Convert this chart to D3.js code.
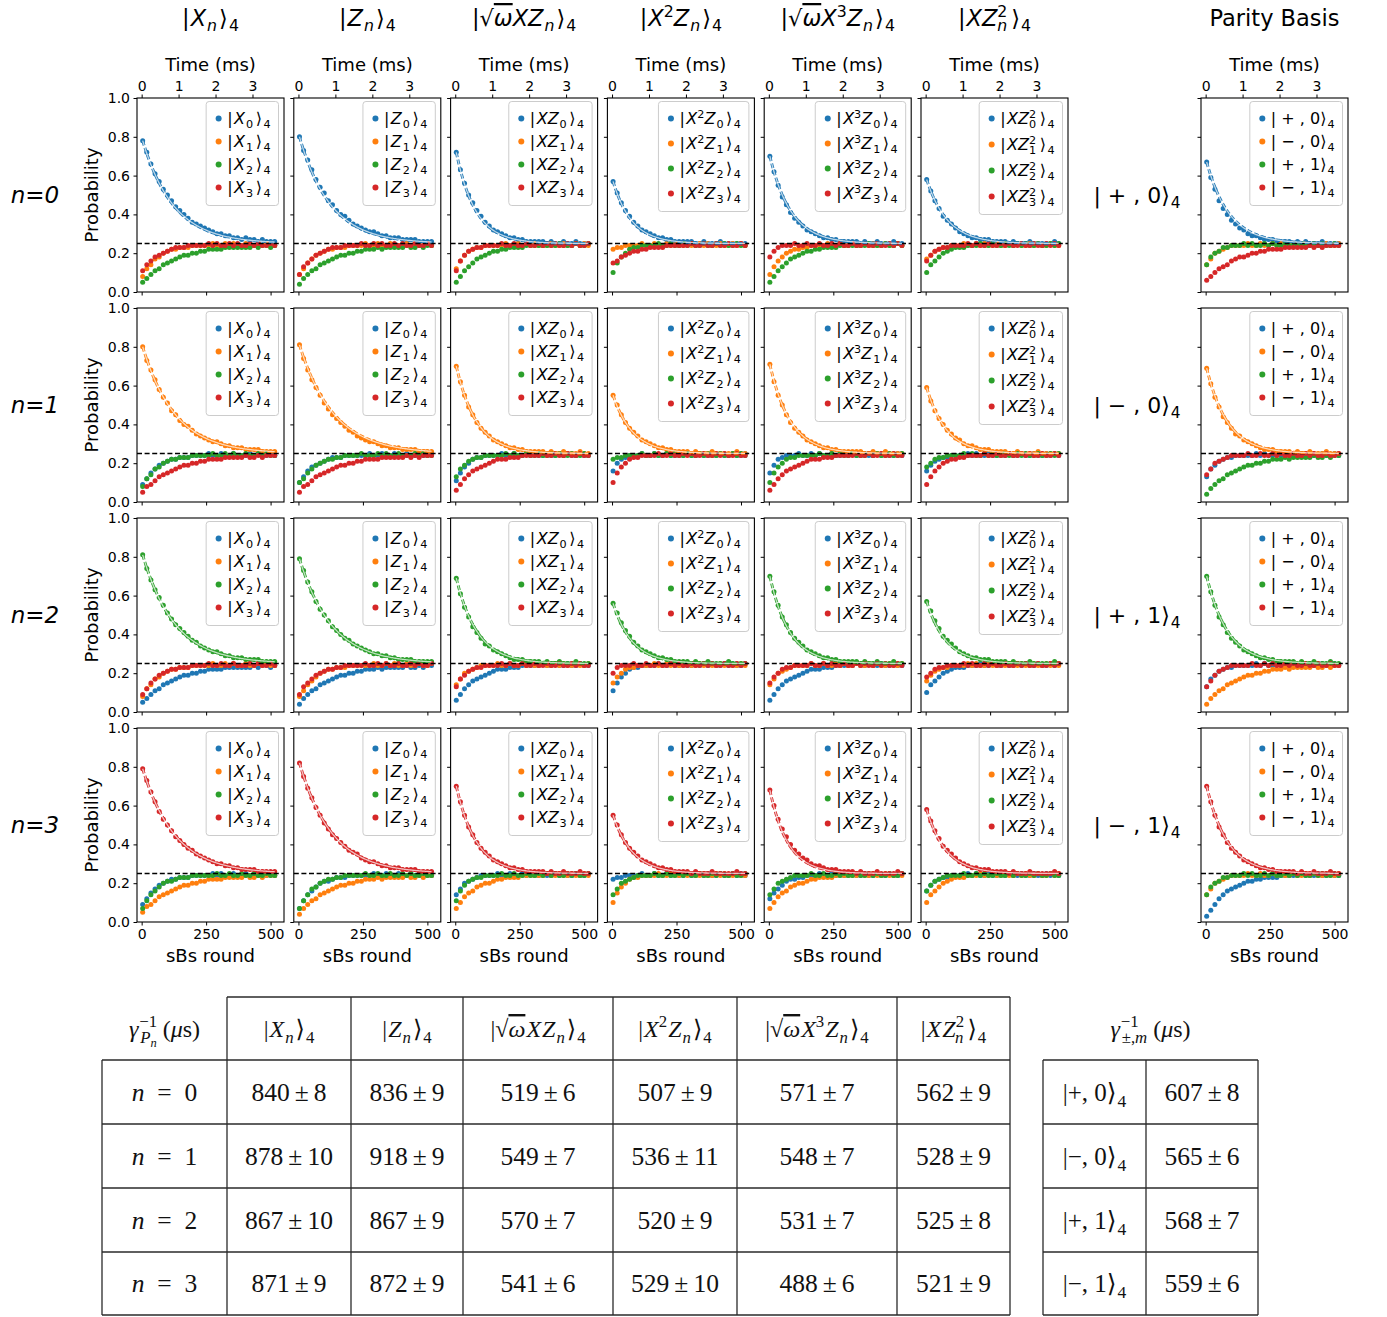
<!DOCTYPE html>
<html><head><meta charset="utf-8">
<script src="https://cdn.jsdelivr.net/npm/d3@7"></script>
<style>body{margin:0;background:#fff}svg{font-family:"DejaVu Sans",sans-serif}</style>
</head><body>
<svg id="chart" width="1387" height="1317"></svg>
<script>
// ---------------- data ----------------
const ROUNDS = [4,20,36,52,68,84,100,116,132,148,164,180,196,212,228,244,260,276,292,308,324,340,356,372,388,404,420,436,452,468,484,500,516];
const US_PER_ROUND = 6.98;
const COLORS = ["#1f77b4","#ff7f0e","#2ca02c","#d62728"];
const Y_TICKS = [0,20,40,60,80,100];
const X_TICKS = [0,250,500];
const T_TICKS = [0,1,2,3];
const ROW_LABELS = ["n=0","n=1","n=2","n=3"];
const PARITY_STATES = ["+ , 0","\u2212 , 0","+ , 1","\u2212 , 1"];
const PARITY_STATES_T = ["+, 0","\u2212, 0","+, 1","\u2212, 1"];

// probability values in percent, series order: [k=0 blue, k=1 orange, k=2 green, k=3 red]
const Xn_0 = [
[78,72,66,61,57,53,50,47,44,42,40,38,36,35,34,33,32,31,30,30,29,29,28,28,27,28,27,27,26,27,26,26,26],
[8,12,14,17,18,20,21,22,22,23,23,23,24,24,24,24,24,25,24,24,25,24,25,24,24,25,24,24,25,24,25,24,24],
[5,7,9,11,12,14,15,16,17,18,19,19,20,20,21,21,22,22,22,22,23,23,23,23,23,23,23,24,23,24,24,23,24],
[11,14,16,18,19,20,21,22,23,23,23,24,24,24,24,24,25,24,25,24,24,25,24,25,24,24,25,24,25,24,24,25,24]];
const Zn_0 = [
[80,73,68,63,58,54,51,47,45,42,40,39,37,35,34,33,32,31,31,30,29,29,28,28,28,27,27,27,27,26,26,26,26],
[9,12,15,17,19,20,21,22,22,23,23,23,24,24,24,24,25,24,24,25,24,24,25,24,24,24,25,24,25,24,24,25,24],
[4,7,9,11,12,14,15,16,17,18,19,19,20,20,21,21,22,22,22,23,22,23,23,23,23,23,24,23,23,24,23,24,24],
[9,13,15,17,19,20,21,22,23,23,23,24,24,24,24,25,24,24,25,24,25,24,24,25,24,25,24,24,25,24,24,25,24]];
const XZn_0 = [
[72,63,56,50,46,42,39,36,34,32,31,30,29,28,28,27,27,26,26,26,26,26,25,26,25,25,26,25,25,26,25,25,25],
[12,16,19,21,22,23,23,24,24,24,24,24,25,24,24,25,24,25,24,25,24,24,24,25,24,24,25,24,24,25,24,25,24],
[5,8,11,13,15,17,18,19,20,21,21,22,22,23,23,23,23,24,24,24,24,24,24,24,24,25,24,24,24,25,24,24,25],
[11,16,19,21,22,23,23,24,24,24,24,25,24,24,25,24,24,25,24,24,25,24,25,24,25,24,24,25,24,25,24,24,25]];
const X2Zn_0 = [
[57,51,46,42,39,36,34,32,31,30,29,28,28,27,27,26,26,26,26,26,25,25,26,25,25,25,26,25,25,25,25,25,25],
[22,23,23,24,24,24,24,25,24,24,25,24,24,25,24,25,24,24,25,24,24,25,24,25,24,24,25,24,24,25,24,25,24],
[10,15,18,20,22,23,23,24,24,24,24,25,24,24,25,24,24,25,24,25,24,24,25,24,24,25,24,25,24,24,25,24,24],
[15,16,18,19,20,21,21,22,22,23,23,23,23,24,24,24,24,24,24,25,24,24,25,24,24,25,24,24,25,24,24,25,24]];
const X3Zn_0 = [
[70,62,55,49,45,41,38,36,34,32,31,30,29,28,28,27,27,26,26,26,26,26,25,26,25,25,26,25,25,25,26,25,25],
[9,13,16,18,20,21,22,22,23,23,24,24,24,24,25,24,24,25,24,24,25,24,24,25,24,25,24,24,25,24,24,25,24],
[5,8,11,13,15,17,18,19,20,21,21,22,22,23,23,23,23,24,24,24,24,24,24,24,25,24,24,24,25,24,24,25,24],
[18,21,23,24,24,24,25,24,24,25,24,24,25,24,24,25,24,25,24,24,25,24,24,25,24,24,25,24,24,25,24,25,24]];
const XZ2n_0 = [
[58,52,47,43,39,37,35,33,31,30,29,28,28,27,27,27,26,26,26,26,25,26,25,25,25,26,25,25,25,25,25,26,25],
[17,19,21,22,23,23,24,24,24,25,24,24,25,24,25,24,24,25,24,24,25,24,25,24,24,25,24,25,24,24,25,24,24],
[10,14,16,18,20,21,22,23,23,23,24,24,24,25,24,24,25,24,24,25,24,24,25,24,25,24,24,25,24,24,25,24,25],
[16,19,21,22,23,23,24,24,24,24,25,24,25,24,24,25,24,24,25,24,25,24,24,25,24,24,25,24,24,25,24,25,24]];
const PAR_0 = [
[67,59,53,47,43,40,37,35,33,32,30,29,29,28,27,27,27,26,26,26,26,25,26,25,26,25,25,25,26,25,25,25,25],
[14,17,20,21,22,23,24,24,24,24,25,24,24,25,24,24,25,24,25,24,24,25,24,24,25,24,25,24,24,25,24,24,25],
[14,18,20,21,23,23,24,24,24,25,24,25,24,24,25,24,25,24,24,25,24,25,24,25,24,24,25,24,25,24,24,25,24],
[6,8,10,12,13,14,16,17,18,18,19,20,20,21,21,22,22,22,22,23,23,23,23,23,23,24,23,24,23,24,24,24,24]];

const Xn_1 = [
[9,12,15,17,19,20,21,22,22,23,23,23,24,24,24,24,25,24,24,25,24,24,25,24,24,24,25,24,25,24,24,25,24],
[80,73,68,63,58,54,51,47,45,42,40,39,37,35,34,33,32,31,31,30,29,29,28,28,28,27,27,27,27,26,26,26,26],
[8,12,14,17,18,20,21,22,22,23,23,23,24,24,24,24,24,25,24,24,25,24,25,24,24,25,24,24,25,24,25,24,24],
[5,8,9,11,13,14,15,16,17,18,19,19,20,20,21,21,22,22,22,22,23,23,23,23,23,24,23,23,24,23,24,24,24]];
const Zn_1 = [
[10,13,16,18,19,20,21,22,23,23,23,24,24,24,24,24,24,25,24,24,25,24,24,25,24,24,25,24,24,25,24,24,25],
[81,74,68,63,59,55,51,48,45,43,41,39,37,36,34,33,32,31,31,30,29,29,28,28,28,27,27,27,27,26,26,26,26],
[10,12,15,17,19,20,21,22,22,23,23,24,24,24,24,25,24,24,24,25,24,25,24,24,25,24,24,24,25,24,25,24,24],
[5,8,9,11,13,14,15,16,17,18,19,19,20,20,21,21,22,22,22,22,23,23,23,23,23,23,24,23,24,23,24,24,24]];
const XZn_1 = [
[11,15,18,20,22,23,23,24,24,24,24,25,24,24,25,24,24,25,24,25,24,24,25,24,24,25,24,25,24,24,25,24,24],
[70,62,55,49,45,41,38,36,34,32,31,30,29,28,28,27,27,26,26,26,26,26,25,26,25,25,26,25,25,25,26,25,25],
[13,17,19,21,22,23,23,24,24,24,24,24,25,24,25,24,24,25,24,24,25,24,24,25,24,25,24,24,25,24,24,25,24],
[6,9,12,14,16,17,18,19,20,21,22,22,22,23,23,23,24,24,24,24,24,25,24,24,25,24,24,25,24,24,25,24,24]];
const X2Zn_1 = [
[16,20,22,23,24,24,24,25,24,24,25,24,24,25,24,24,25,24,25,24,24,25,24,24,25,24,25,24,24,25,24,24,25],
[55,50,45,41,38,36,34,32,31,30,29,28,28,27,27,26,26,26,26,25,26,25,25,25,26,25,25,25,25,25,26,25,25],
[22,23,23,24,24,24,24,25,24,24,25,24,24,25,24,25,24,24,25,24,24,25,24,25,24,24,25,24,24,25,24,25,24],
[10,15,18,20,22,23,23,24,24,24,24,25,24,24,25,24,24,25,24,25,24,24,25,24,24,25,24,25,24,24,25,24,24]];
const X3Zn_1 = [
[15,19,22,23,24,24,24,25,24,24,25,24,25,24,24,25,24,24,25,24,25,24,24,25,24,24,25,24,25,24,24,25,24],
[71,62,55,50,45,41,38,36,34,32,31,30,29,28,28,27,27,26,26,26,26,26,26,25,25,26,25,25,26,25,25,25,25],
[10,15,18,20,22,23,23,24,24,24,24,24,25,24,24,25,24,25,24,24,25,24,24,24,25,24,25,24,24,25,24,24,25],
[6,9,12,14,16,17,18,19,20,21,22,22,22,23,23,23,24,24,24,24,24,25,24,24,25,24,24,25,24,24,25,24,24]];
const XZ2n_1 = [
[16,19,21,22,23,23,24,24,24,24,25,24,25,24,24,25,24,24,25,24,25,24,24,25,24,24,25,24,24,25,24,25,24],
[59,52,47,43,40,37,35,33,32,30,29,29,28,27,27,27,26,26,26,26,25,25,26,25,25,25,25,26,25,25,25,25,25],
[18,20,22,23,23,24,24,24,24,25,24,25,24,24,25,24,25,24,24,25,24,24,25,24,25,24,24,25,24,24,25,24,25],
[9,13,16,18,20,21,22,22,23,23,24,24,24,24,25,24,24,25,24,24,25,24,24,25,24,25,24,24,25,24,24,25,24]];
const PAR_1 = [
[13,17,19,21,22,23,23,24,24,24,24,24,25,24,25,24,24,25,24,24,25,24,24,25,24,25,24,24,25,24,24,25,24],
[69,61,54,49,44,41,38,35,34,32,31,30,29,28,27,27,27,26,26,26,26,25,26,25,25,26,25,25,25,26,25,25,25],
[4,7,9,11,12,14,15,16,17,18,19,19,20,20,21,21,22,22,22,23,22,23,23,23,23,23,24,23,23,24,23,24,24],
[14,17,20,21,22,23,24,24,24,24,25,24,24,25,24,24,25,24,25,24,24,25,24,24,25,24,25,24,24,25,24,24,25]];

const Xn_2 = [
[5,7,9,11,12,14,15,16,17,18,19,19,20,20,21,21,22,22,22,22,23,23,23,23,23,23,23,24,23,24,24,23,24],
[8,12,14,17,18,20,21,22,22,23,23,23,24,24,24,24,24,25,24,24,25,24,25,24,24,25,24,24,25,24,25,24,24],
[81,74,68,63,59,55,51,48,45,43,41,39,37,36,34,33,32,31,31,30,29,29,28,28,28,27,27,27,27,26,26,26,26],
[9,12,15,17,19,20,21,22,22,23,23,23,24,24,24,24,25,24,24,25,24,24,25,24,24,24,25,24,25,24,24,25,24]];
const Zn_2 = [
[4,7,9,11,12,14,15,16,17,18,19,19,20,20,21,21,22,22,22,23,22,23,23,23,23,23,24,23,23,24,23,24,24],
[8,11,14,16,18,20,21,22,22,23,23,23,24,24,24,24,24,24,25,24,24,25,24,25,24,24,25,24,24,25,24,24,25],
[79,73,67,62,57,53,50,47,44,42,40,38,37,35,34,33,32,31,30,30,29,29,28,28,27,27,27,27,26,26,26,26,26],
[9,13,15,17,19,20,21,22,22,23,23,24,24,24,24,24,25,24,24,25,24,25,24,24,25,24,24,25,24,25,24,24,25]];
const XZn_2 = [
[6,9,12,14,16,17,18,19,20,21,22,22,22,23,23,23,24,24,24,24,24,25,24,24,25,24,24,25,24,24,25,24,24],
[14,17,20,21,22,23,24,24,24,24,25,24,24,25,24,24,25,24,25,24,24,25,24,24,25,24,25,24,24,25,24,24,25],
[69,61,54,49,44,41,38,35,34,32,31,30,29,28,27,27,27,26,26,26,26,25,26,25,25,26,25,25,25,26,25,25,25],
[13,17,19,21,22,23,23,24,24,24,24,25,24,25,24,24,25,24,24,25,24,24,25,24,24,25,24,24,25,24,25,24,24]];
const X2Zn_2 = [
[11,15,18,20,22,23,23,24,24,24,24,25,24,24,25,24,24,25,24,24,25,24,25,24,25,24,24,25,24,25,24,24,25],
[15,18,20,22,23,23,24,24,24,24,25,24,24,25,24,25,24,24,25,24,24,25,24,25,24,24,25,24,25,24,24,25,24],
[56,51,46,42,39,36,34,32,31,30,29,28,28,27,27,26,26,26,26,25,26,25,25,26,25,25,25,25,26,25,25,25,25],
[20,23,24,24,24,25,24,24,25,24,24,25,24,24,25,24,25,24,24,25,24,24,25,24,25,24,24,25,24,24,25,24,25]];
const X3Zn_2 = [
[6,9,12,14,16,17,18,19,20,21,22,22,22,23,23,23,24,24,24,24,24,25,24,24,25,24,24,25,24,24,25,24,24],
[14,17,20,21,22,23,24,24,24,24,25,24,24,25,24,24,25,24,25,24,24,25,24,24,25,24,25,24,24,25,24,24,25],
[70,62,55,49,45,41,38,36,34,32,31,30,29,28,28,27,27,26,26,26,26,26,25,26,25,25,26,25,25,25,26,25,25],
[15,18,20,22,23,23,24,24,24,24,25,24,24,25,24,25,24,24,25,24,24,25,24,25,24,24,25,24,25,24,24,25,24]];
const XZ2n_2 = [
[10,14,16,18,20,21,22,23,23,23,24,24,24,25,24,24,25,24,24,25,24,24,25,24,25,24,24,25,24,24,25,24,25],
[16,19,21,22,23,23,24,24,24,24,25,24,25,24,24,25,24,24,25,24,25,24,24,25,24,24,25,24,24,25,24,25,24],
[57,52,47,43,39,37,35,33,31,30,29,28,28,27,27,27,26,26,26,26,25,26,25,25,25,26,25,25,25,25,25,26,25],
[18,20,22,23,23,24,24,24,24,25,24,25,24,24,25,24,25,24,24,25,24,24,25,24,25,24,24,25,24,24,25,24,25]];
const PAR_2 = [
[13,17,19,21,22,23,23,24,24,24,24,24,25,24,25,24,24,25,24,24,25,24,24,25,24,25,24,24,25,24,24,25,24],
[4,7,9,11,12,14,15,16,17,18,19,19,20,20,21,21,22,22,22,23,22,23,23,23,23,23,24,23,23,24,23,24,24],
[70,62,55,49,45,41,38,36,34,32,31,30,29,28,28,27,27,26,26,26,26,26,25,26,25,25,26,25,25,25,26,25,25],
[13,16,19,21,22,23,24,24,24,24,24,25,24,24,25,24,25,24,24,25,24,25,24,24,25,24,24,25,24,24,25,24,24]];

const Xn_3 = [
[9,12,15,17,19,20,21,22,22,23,23,23,24,24,24,24,24,25,24,25,24,24,25,24,24,25,24,24,24,25,24,25,24],
[5,8,9,11,13,14,15,16,17,18,19,19,20,20,21,21,22,22,22,22,23,23,23,23,23,24,23,23,24,23,24,24,24],
[7,11,14,16,18,20,21,21,22,23,23,23,24,24,24,24,24,24,25,24,24,25,24,24,25,24,24,25,24,24,25,24,24],
[79,73,67,62,57,53,50,47,44,42,40,38,37,35,34,33,32,31,30,30,29,29,28,28,27,27,27,27,26,26,26,26,26]];
const Zn_3 = [
[7,11,14,16,18,20,21,21,22,23,23,23,24,24,24,24,24,24,25,24,24,25,24,24,25,24,24,25,24,24,25,24,24],
[4,7,9,11,12,14,15,16,17,18,19,19,20,20,21,21,22,22,22,23,22,23,23,23,23,23,24,23,23,24,23,24,24],
[7,11,14,17,18,20,21,22,22,23,23,24,24,24,24,24,25,24,24,25,24,24,25,24,24,25,24,25,24,24,25,24,24],
[82,75,69,64,59,55,51,48,45,43,41,39,37,36,35,33,32,31,31,30,29,29,28,28,28,27,27,27,27,26,26,26,26]];
const XZn_3 = [
[14,17,20,21,22,23,24,24,24,24,25,24,24,25,24,24,25,24,25,24,24,25,24,24,25,24,25,24,24,25,24,24,25],
[7,10,13,15,16,18,19,20,20,21,22,22,23,23,23,23,24,24,24,24,24,24,25,24,24,25,24,24,25,24,24,25,24],
[11,16,19,21,22,23,23,24,24,24,24,25,24,24,25,24,24,25,24,24,25,24,25,24,25,24,24,25,24,25,24,24,25],
[70,62,55,49,45,41,38,36,34,32,31,30,29,28,28,27,27,26,26,26,26,26,25,26,25,25,26,25,25,25,26,25,25]];
const X2Zn_3 = [
[22,23,23,24,24,24,24,25,24,24,25,24,24,25,24,25,24,24,25,24,24,25,24,25,24,24,25,24,24,25,24,25,24],
[10,15,18,20,22,23,23,24,24,24,24,25,24,24,25,24,24,25,24,25,24,24,25,24,24,25,24,25,24,24,25,24,24],
[14,17,20,21,22,23,24,24,24,24,25,24,24,25,24,24,25,24,25,24,24,25,24,24,25,24,25,24,24,25,24,24,25],
[55,50,45,41,38,36,34,32,31,30,29,28,28,27,27,26,26,26,26,25,26,25,25,25,26,25,25,25,25,25,26,25,25]];
const X3Zn_3 = [
[12,15,17,19,21,22,22,23,23,24,24,24,25,24,24,25,24,25,24,24,25,24,24,25,24,24,25,24,24,25,24,24,25],
[7,10,13,15,16,18,19,20,20,21,22,22,23,23,23,23,24,24,24,24,24,24,25,24,24,25,24,24,25,24,24,25,24],
[14,17,20,21,22,23,24,24,24,24,25,24,24,25,24,24,25,24,25,24,24,25,24,24,25,24,25,24,24,25,24,24,25],
[68,60,53,48,44,40,37,35,33,32,30,29,29,28,27,27,27,26,26,26,26,25,26,25,25,25,26,25,25,25,25,26,25]];
const XZ2n_3 = [
[16,19,21,22,23,23,24,24,24,24,25,24,25,24,24,25,24,24,25,24,25,24,24,25,24,24,25,24,24,25,24,25,24],
[10,14,16,18,20,21,22,23,23,23,24,24,24,25,24,24,25,24,24,25,24,24,25,24,25,24,24,25,24,24,25,24,25],
[16,19,21,22,23,24,24,24,24,25,24,24,25,24,25,24,24,25,24,24,25,24,25,24,24,25,24,25,24,24,25,24,24],
[58,52,47,43,39,37,35,33,31,30,29,28,28,27,27,27,26,26,26,26,25,26,25,25,25,26,25,25,25,25,25,26,25]];
const PAR_3 = [
[3,6,9,12,14,16,17,18,19,20,21,21,22,22,23,23,23,23,24,24,24,24,24,25,24,24,24,25,24,24,25,24,24],
[14,17,20,21,22,23,24,24,24,24,25,24,24,25,24,24,25,24,25,24,24,25,24,24,25,24,25,24,24,25,24,24,25],
[14,18,20,21,23,23,24,24,24,25,24,25,24,24,25,24,25,24,24,25,24,25,24,25,24,24,25,24,25,24,24,25,24],
[70,62,55,49,45,41,38,36,34,32,31,30,29,28,28,27,27,26,26,26,26,26,25,26,25,25,26,25,25,25,26,25,25]];

const GRID = [
  [Xn_0, Zn_0, XZn_0, X2Zn_0, X3Zn_0, XZ2n_0, PAR_0],
  [Xn_1, Zn_1, XZn_1, X2Zn_1, X3Zn_1, XZ2n_1, PAR_1],
  [Xn_2, Zn_2, XZn_2, X2Zn_2, X3Zn_2, XZ2n_2, PAR_2],
  [Xn_3, Zn_3, XZn_3, X2Zn_3, X3Zn_3, XZ2n_3, PAR_3]];

// fitted decay times (µs), from the table
const TAU = [[840,836,519,507,571,562],[878,918,549,536,548,528],[867,867,570,520,531,525],[871,872,541,529,488,521]];
const TAU_ERR = [[8,9,6,9,7,9],[10,9,7,11,7,9],[10,9,7,9,7,8],[9,9,6,10,6,9]];
const PAR_TAU = [607,565,568,559];
const PAR_ERR = [8,6,7,6];

// ---------------- rich text helper ----------------
const R = (t, dx) => ({t, dx}), I = (t, dx) => ({t, it:1, dx});
const SB = (t, it, dx) => ({t, it, pos:"sub", dx});
const SP = (t, it, dx) => ({t, it, pos:"sup", dx});
const SS = (t, it) => ({t, it, pos:"ss"});
const OV = t => ({t, it:1, over:1});
function rich(sel, parts, fs) {
  let cur = 0;
  for (const p of parts) {
    const pos = p.pos || "base";
    const target = pos === "sub" ? 0.24*fs : pos === "sup" ? -0.42*fs : pos === "ss" ? 0.42*fs : 0;
    const size = pos === "base" ? fs : pos === "ss" ? 0.52*fs : 0.7*fs;
    const ts = sel.append("tspan").text(p.t).attr("font-size", size)
      .attr("font-style", p.it ? "italic" : "normal");
    if (target !== cur) ts.attr("dy", (target - cur).toFixed(2));
    if (p.dx) ts.attr("dx", p.dx);
    if (p.over) ts.style("text-decoration", "overline");
    cur = target;
  }
}
const KET = "\u27E9";
const TITLES = [
  [R("|"), I("X",1), SB("n",1,1), R(KET,2), SB("4",0,1)],
  [R("|"), I("Z",1), SB("n",1,1), R(KET,2), SB("4",0,1)],
  [R("|\u221A"), OV("\u03C9"), I("XZ"), SB("n",1,1), R(KET,2), SB("4",0,1)],
  [R("|"), I("X",1), SP("2"), I("Z"), SB("n",1,1), R(KET,2), SB("4",0,1)],
  [R("|\u221A"), OV("\u03C9"), I("X"), SP("3"), I("Z"), SB("n",1,1), R(KET,2), SB("4",0,1)],
  [R("|"), I("XZ",1), SP("2"), SB("n",1,-10), R(KET,4), SB("4",0,1)],
  [R("Parity Basis")]
];
const LEG_LABELS = [
  k => [R("|"), I("X",1.5), SB(String(k),0,1), R(KET,2.5), SB("4",0,1.5)],
  k => [R("|"), I("Z",1.5), SB(String(k),0,1), R(KET,2.5), SB("4",0,1.5)],
  k => [R("|"), I("XZ",1.5), SB(String(k),0,1), R(KET,2.5), SB("4",0,1.5)],
  k => [R("|"), I("X",1.5), SP("2"), I("Z"), SB(String(k),0,1), R(KET,2.5), SB("4",0,1.5)],
  k => [R("|"), I("X",1.5), SP("3"), I("Z"), SB(String(k),0,1), R(KET,2.5), SB("4",0,1.5)],
  k => [R("|"), I("XZ",1.5), SP("2"), SB(String(k),0,-7.1), R(KET,3.5), SB("4",0,1.5)],
  k => [R("| " + PARITY_STATES[k] + KET), SB("4",0,1)]
];
const LEG_SP = [23,23,23,25,25,26,23];

// ---------------- layout ----------------
const svg = d3.select("#chart");
const LEFTS = [137, 293.8, 450.6, 607.4, 764.2, 921, 1201];
const TOPS = [98, 308, 518, 728];
const PW = 147, PH = 194;
const x = d3.scaleLinear().domain([-18, 552]).range([0, PW]);
const xt = d3.scaleLinear().domain(x.domain().map(r => r*US_PER_ROUND/1000)).range([0, PW]);
const y = d3.scaleLinear().domain([0, 100]).range([PH, 0]);

function styleAxis(g) {
  g.attr("font-family", "DejaVu Sans").attr("font-size", 14);
  g.select(".domain").remove();
  g.selectAll("line").attr("stroke", "#000").attr("stroke-width", 1);
  g.selectAll("text").attr("fill", "#000");
}

for (let r = 0; r < 4; r++) {
  for (let c = 0; c < 7; c++) {
    const g = svg.append("g").attr("transform", `translate(${LEFTS[c]},${TOPS[r]})`);
    const data = GRID[r][c];
    // axes
    g.append("g").call(d3.axisLeft(y).tickValues(Y_TICKS).tickSize(3.5).tickPadding(3.5)
      .tickFormat(c === 0 ? d => (d/100).toFixed(1) : () => "")).call(styleAxis);
    g.append("g").attr("transform", `translate(0,${PH})`)
      .call(d3.axisBottom(x).tickValues(X_TICKS).tickSize(3.5).tickPadding(3.5)
      .tickFormat(r === 3 ? d3.format("d") : () => "")).call(styleAxis);
    if (r === 0) {
      g.append("g").call(d3.axisTop(xt).tickValues(T_TICKS).tickSize(3.5).tickPadding(3.5)
        .tickFormat(d3.format("d"))).call(styleAxis);
      g.append("text").attr("x", PW/2).attr("y", -27).attr("text-anchor", "middle")
        .attr("font-size", 18).text("Time (ms)");
    }
    if (r === 3) {
      g.append("text").attr("x", PW/2).attr("y", PH + 40).attr("text-anchor", "middle")
        .attr("font-size", 18).text("sBs round");
    }
    // dots
    data.forEach((vals, k) => {
      g.append("g").selectAll("circle").data(vals).join("circle")
        .attr("cx", (v, i) => x(ROUNDS[i])).attr("cy", v => y(v))
        .attr("r", 2.5).attr("fill", COLORS[k]);
    });
    // reference line at 1/4
    g.append("line").attr("x1", 0).attr("x2", PW).attr("y1", y(25)).attr("y2", y(25))
      .attr("stroke", "#000").attr("stroke-width", 1.3).attr("stroke-dasharray", "5,2.6");
    // exponential fit for the prepared state
    const tauRounds = (c < 6 ? TAU[r][c] : PAR_TAU[r]) / US_PER_ROUND;
    const p0 = data[r][0];
    const fitR = d3.range(4, 517, 4);
    const line = d3.line().x(t => x(t)).y(t => y(25 + (p0 - 25) * Math.exp(-(t - 4) / tauRounds)));
    g.append("path").attr("d", line(fitR)).attr("fill", "none").attr("stroke", COLORS[r])
      .attr("stroke-width", 2.8).attr("stroke-dasharray", "5,2.4");
    g.append("path").attr("d", line(fitR)).attr("fill", "none").attr("stroke", "#fff")
      .attr("stroke-opacity", 0.7).attr("stroke-width", 1.3);
    // legend
    const lg = g.append("g");
    const rect = lg.append("rect");
    const sp = LEG_SP[c], top = 3.5;
    let maxW = 0; const tnodes = [];
    for (let k = 0; k < 4; k++) {
      const t = lg.append("text").attr("y", top + 17 + k*sp + 5.8).attr("font-size", 16);
      rich(t, LEG_LABELS[c](k), 16);
      tnodes.push(t);
      maxW = Math.max(maxW, t.node().getBBox().width);
    }
    const bw = maxW + 29, bx = PW - 5.5 - bw;
    rect.attr("x", bx).attr("y", top).attr("width", bw).attr("height", 3*sp + 35).attr("rx", 3)
      .attr("fill", "#fff").attr("fill-opacity", 0.8).attr("stroke", "#cccccc").attr("stroke-width", 1);
    tnodes.forEach((t, k) => {
      t.attr("x", bx + 21);
      lg.append("circle").attr("cx", bx + 12.5).attr("cy", top + 17 + k*sp).attr("r", 3).attr("fill", COLORS[k]);
    });
    // spine
    g.append("rect").attr("width", PW).attr("height", PH).attr("fill", "none")
      .attr("stroke", "#000").attr("stroke-width", 1.1);
    if (c === 0) {
      g.append("text").attr("transform", `translate(-39,${PH/2}) rotate(-90)`)
        .attr("text-anchor", "middle").attr("font-size", 18).text("Probability");
    }
  }
  // row labels
  svg.append("text").attr("x", 35).attr("y", TOPS[r] + PH/2 + 8).attr("text-anchor", "middle")
    .attr("font-size", 23).attr("font-style", "italic").text(ROW_LABELS[r]);
  const pl = svg.append("text").attr("x", 1137).attr("y", TOPS[r] + PH/2 + 8).attr("text-anchor", "middle")
    .attr("font-size", 22);
  rich(pl, [R("| " + PARITY_STATES[r] + KET), SB("4",0,1)], 22);
}
// column titles
TITLES.forEach((parts, c) => {
  const t = svg.append("text").attr("x", LEFTS[c] + PW/2).attr("y", 26).attr("text-anchor", "middle").attr("font-size", 22.5);
  rich(t, parts, 22.5);
});

// ---------------- table ----------------
const TX = [102, 227, 351, 463, 613, 737, 897, 1010];
const TY = [997, 1060, 1124, 1188, 1252, 1315];
const TX2 = [1043, 1146, 1258];
const tg = svg.append("g").attr("font-family", "'Liberation Serif','DejaVu Serif',serif");
function hl(x1, x2, yy) { tg.append("line").attr("x1", x1).attr("x2", x2).attr("y1", yy).attr("y2", yy).attr("stroke", "#2a2a2a").attr("stroke-width", 1.3); }
function vl(xx, y1, y2) { tg.append("line").attr("x1", xx).attr("x2", xx).attr("y1", y1).attr("y2", y2).attr("stroke", "#2a2a2a").attr("stroke-width", 1.3); }
hl(TX[1], TX[7], TY[0]);
TY.slice(1).forEach(yy => hl(TX[0], TX[7], yy));
TX.forEach((xx, i) => vl(xx, i === 0 ? TY[1] : TY[0], TY[5]));
TY.slice(1).forEach(yy => hl(TX2[0], TX2[2], yy));
TX2.forEach(xx => vl(xx, TY[1], TY[5]));
const TFS = 25.5;
function cellText(cx, cy, parts, fs) {
  const t = tg.append("text").attr("x", cx).attr("y", cy + 8.5).attr("text-anchor", "middle")
    .attr("font-size", fs || TFS).attr("fill", "#111");
  rich(t, parts, fs || TFS);
}
const TABLE_HEAD = [
  [R("|"), I("X",1), SB("n",1,1), R(KET,2), SB("4",0,1)],
  [R("|"), I("Z",1), SB("n",1,1), R(KET,2), SB("4",0,1)],
  [R("|\u221A"), OV("\u03C9"), I("X",1), I("Z",1), SB("n",1,1), R(KET,2), SB("4",0,1)],
  [R("|"), I("X",1), SP("2"), I("Z",1), SB("n",1,1), R(KET,2), SB("4",0,1)],
  [R("|\u221A"), OV("\u03C9"), I("X",1), SP("3"), I("Z",1), SB("n",1,1), R(KET,2), SB("4",0,1)],
  [R("|"), I("X",1), I("Z",1), SP("2"), SB("n",1,-9), R(KET,4), SB("4",0,1)]
];
const midY = i => (TY[i] + TY[i+1]) / 2;
cellText((TX[0]+TX[1])/2, midY(0), [I("\u03B3"), SP("\u22121",0,1), SB("P",1,-17), SS("n",1), R("  ("), I("\u03BC"), R("s)")], 24);
TABLE_HEAD.forEach((p, j) => cellText((TX[j+1]+TX[j+2])/2, midY(0), p, 24));
for (let n = 0; n < 4; n++) {
  cellText((TX[0]+TX[1])/2, midY(n+1), [I("n"), R("\u2002=\u2002" + n)]);
  TAU[n].forEach((v, j) => cellText((TX[j+1]+TX[j+2])/2, midY(n+1), [R(`${v}\u2009\u00B1\u2009${TAU_ERR[n][j]}`)]));
  cellText((TX2[0]+TX2[1])/2, midY(n+1), [R("|" + PARITY_STATES_T[n] + KET), SB("4",0,1)], 25);
  cellText((TX2[1]+TX2[2])/2, midY(n+1), [R(`${PAR_TAU[n]}\u2009\u00B1\u2009${PAR_ERR[n]}`)]);
}
cellText((TX2[0]+TX2[2])/2, midY(0), [I("\u03B3"), SP("\u22121",0,1), SB("\u00B1,",0,-17), SB("m",1), R("  ("), I("\u03BC"), R("s)")], 24);
</script>
</body></html>
